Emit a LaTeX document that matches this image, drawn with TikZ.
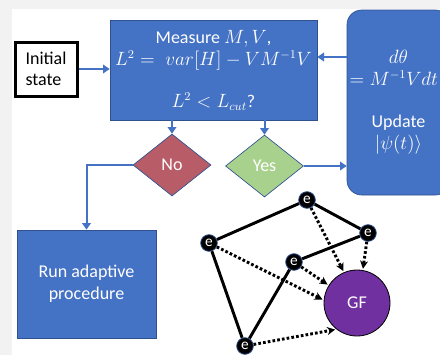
\documentclass[tikz,border=0pt]{standalone}
\usepackage[no-math]{fontspec}
\setmainfont{Carlito}
\usetikzlibrary{shapes.geometric,arrows.meta}

\definecolor{boxblue}{HTML}{4472C4}
\definecolor{edgeblue}{HTML}{2F528F}
\definecolor{nored}{HTML}{B85C68}
\definecolor{yesgreen}{HTML}{A9D18E}
\definecolor{gfpurple}{HTML}{7030A0}
\definecolor{backgray}{HTML}{F2F2F2}

\begin{document}
\begin{tikzpicture}[x=0.75pt,y=-0.75pt,
    box/.style={draw=edgeblue,line width=0.5pt,fill=boxblue,text=white,align=center,inner sep=0pt,font=\fontsize{13.5}{16.5}\selectfont},
    choice/.style={diamond,draw=edgeblue,line width=0.5pt,inner sep=0pt,text=white,font=\fontsize{13.5}{16}\selectfont,minimum width=58.5pt,minimum height=46.5pt},
    arr/.style={-{Triangle[length=5pt,width=6.5pt]},draw=boxblue,line width=1.5pt},
    e node/.style={circle,fill=black,draw=edgeblue,line width=0.6pt,inner sep=0pt,minimum size=12.5pt,text=white,font=\fontsize{11.5}{11.5}\selectfont},
    dots/.style={-{Stealth[length=6pt,width=6pt]},line width=2.2pt,dash pattern=on 2pt off 1.6pt,shorten >=1pt}]
    \useasboundingbox (0,0) rectangle (440,355);
    \clip (0,0) rectangle (440,355);
    \fill[backgray] (0,0) rectangle (440,355);
    \fill[white] (12,9) rectangle (440,355);

    % flow chart
    \node[draw=black,line width=2.25pt,fill=white,align=left,inner sep=0pt,minimum width=46.5pt,minimum height=40.5pt,font=\fontsize{13.5}{16}\selectfont] (init) at (46,69) {Initial\\state};

    \node[box,minimum width=155.25pt,minimum height=75pt] (meas) at (213.5,70) {Measure $M,V$,\\$L^2 =\; var[H] - VM^{-1}V$\\[15pt]$L^2 < L_{cut}$?};

    \node[box,rounded corners=11pt,minimum width=77.25pt,minimum height=138.75pt] (upd) at (398.5,102.5) {$d\theta$\\$= M^{-1}Vdt$\kern7pt\null\\[15pt]Update\\$|\psi(t)\rangle$};

    \node[choice,fill=nored] (no) at (172,165) {No};
    \node[choice,fill=yesgreen] (yes) at (264.5,166) {Yes};

    \node[box,minimum width=104.25pt,minimum height=81pt] (run) at (86.5,284) {Run adaptive\\procedure};

    \draw[arr] (init.east) -- (init.east -| meas.west);
    \draw[arr] (upd.west |- 0,57) -- (meas.east |- 0,57);
    \draw[arr] (no.north |- meas.south) -- (no.north);
    \draw[arr] (yes.north |- meas.south) -- (yes.north);
    \draw[arr] (yes.east) -- (yes.east -| upd.west);
    \draw[arr] (no.west) -| (run.north);

    % graph
    \node[circle,fill=gfpurple,draw=black,line width=0.6pt,minimum size=49.5pt,text=white,font=\fontsize{13.5}{16}\selectfont] (gf) at (357,303) {GF};

    \node[e node] (1) at (307,200) {e};
    \node[e node] (2) at (368,233) {e};
    \node[e node] (3) at (209,243) {e};
    \node[e node] (4) at (294,262) {e};
    \node[e node] (5) at (245,346) {e};

    \path[draw=black,line width=2.2pt]
        (3) edge (1)
        (1) edge (2)
        (2) edge (4)
        (4) edge (5)
        (5) edge (3)
        ;
    \path[dots]
        (1) edge (gf.113)
        (2) edge (gf.80)
        (4) edge (gf.148)
        (3) edge (gf.175)
        (5) edge (gf.232)
        ;
\end{tikzpicture}
\end{document}
